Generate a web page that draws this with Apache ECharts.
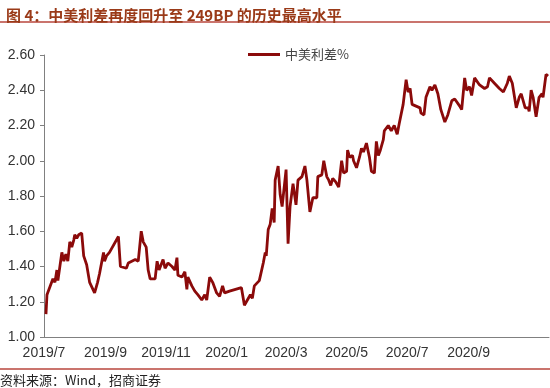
<!DOCTYPE html>
<html>
<head>
<meta charset="utf-8">
<script src="https://cdn.jsdelivr.net/npm/echarts@6/dist/echarts.min.js"></script>
<style>
html,body{margin:0;padding:0;background:#fff;}
#c{width:550px;height:388px;}
</style>
</head>
<body>
<div id="c"></div>
<script>
const dates = [
'2019-07-03','2019-07-04','2019-07-06','2019-07-10','2019-07-12','2019-07-14','2019-07-15','2019-07-19','2019-07-21','2019-07-23',
'2019-07-25','2019-07-27','2019-07-29','2019-07-31','2019-08-01','2019-08-03','2019-08-05','2019-08-08','2019-08-10','2019-08-13',
'2019-08-16','2019-08-21','2019-08-24','2019-08-26','2019-08-30','2019-08-31','2019-09-02','2019-09-05','2019-09-14','2019-09-16',
'2019-09-22','2019-09-24','2019-10-01','2019-10-04','2019-10-07','2019-10-09','2019-10-12','2019-10-14','2019-10-16','2019-10-21',
'2019-10-23','2019-10-25','2019-10-29','2019-10-31','2019-11-03','2019-11-07','2019-11-10','2019-11-12','2019-11-13','2019-11-17',
'2019-11-20','2019-11-22','2019-11-23','2019-11-27','2019-11-30','2019-12-03','2019-12-07','2019-12-10','2019-12-12','2019-12-15',
'2019-12-18','2019-12-22','2019-12-25','2019-12-28','2019-12-30','2020-01-04','2020-01-10','2020-01-16','2020-01-19','2020-01-22',
'2020-01-25','2020-01-27','2020-01-29','2020-02-03','2020-02-07','2020-02-09','2020-02-10','2020-02-12','2020-02-14','2020-02-16',
'2020-02-18','2020-02-19','2020-02-22','2020-02-24','2020-02-26','2020-03-01','2020-03-03','2020-03-05','2020-03-08','2020-03-11',
'2020-03-13','2020-03-17','2020-03-20','2020-03-22','2020-03-25','2020-03-28','2020-04-01','2020-04-02','2020-04-06','2020-04-08',
'2020-04-11','2020-04-13','2020-04-15','2020-04-17','2020-04-20','2020-04-23','2020-04-26','2020-04-28','2020-05-01','2020-05-02',
'2020-05-04','2020-05-07','2020-05-08','2020-05-11','2020-05-14','2020-05-16','2020-05-18','2020-05-21','2020-05-24','2020-05-26',
'2020-05-29','2020-05-31','2020-06-02','2020-06-04','2020-06-07','2020-06-08','2020-06-12','2020-06-15','2020-06-18','2020-06-21',
'2020-06-23','2020-06-27','2020-06-30','2020-07-02','2020-07-04','2020-07-06','2020-07-10','2020-07-14','2020-07-15','2020-07-18',
'2020-07-20','2020-07-24','2020-07-26','2020-07-29','2020-08-01','2020-08-04','2020-08-08','2020-08-11','2020-08-15','2020-08-18',
'2020-08-20','2020-08-23','2020-08-25','2020-08-28','2020-08-30','2020-09-02','2020-09-04','2020-09-07','2020-09-09','2020-09-12',
'2020-09-14','2020-09-17','2020-09-20','2020-09-22','2020-09-24','2020-09-27','2020-10-02','2020-10-06','2020-10-10','2020-10-12',
'2020-10-15','2020-10-19','2020-10-22','2020-10-24','2020-10-26','2020-10-28','2020-10-31','2020-11-01','2020-11-03','2020-11-05',
'2020-11-08','2020-11-11','2020-11-14','2020-11-15','2020-11-18','2020-11-20'
];
const spread = [
1.13,1.24,1.24,1.33,1.31,1.38,1.32,1.48,1.43,1.47,
1.43,1.54,1.51,1.55,1.58,1.56,1.58,1.59,1.46,1.41,
1.31,1.25,1.31,1.36,1.48,1.43,1.46,1.48,1.57,1.40,
1.39,1.42,1.44,1.43,1.60,1.54,1.51,1.38,1.33,1.33,
1.43,1.38,1.44,1.39,1.42,1.40,1.38,1.45,1.35,1.34,
1.37,1.27,1.34,1.29,1.26,1.24,1.21,1.24,1.21,1.34,
1.31,1.25,1.23,1.29,1.25,1.26,1.27,1.28,1.18,1.21,
1.24,1.22,1.29,1.32,1.42,1.48,1.46,1.61,1.64,1.73,
1.65,1.89,1.97,1.81,1.74,1.95,1.53,1.74,1.87,1.75,
1.89,1.91,1.97,1.89,1.71,1.79,1.79,1.91,1.92,2.00,
1.91,1.89,1.86,1.90,1.88,1.85,2.00,1.93,1.94,2.06,
2.02,2.03,2.00,1.96,2.02,2.07,2.05,2.10,2.02,1.94,
1.93,2.11,2.03,2.06,2.12,2.17,2.20,2.17,2.20,2.15,
2.21,2.32,2.46,2.39,2.41,2.32,2.31,2.30,2.27,2.26,
2.36,2.42,2.40,2.43,2.38,2.29,2.22,2.26,2.34,2.35,
2.35,2.31,2.29,2.47,2.40,2.42,2.37,2.47,2.47,2.43,
2.43,2.41,2.42,2.47,2.46,2.44,2.41,2.39,2.44,2.48,
2.44,2.30,2.36,2.38,2.38,2.30,2.30,2.28,2.40,2.36,
2.25,2.36,2.38,2.36,2.49,2.48
];
const xTickLabels = ['2019/7','2019/9','2019/11','2020/1','2020/3','2020/5','2020/7','2020/9'];
const seriesName = '中美利差%';

function toTime(s) {
  const p = s.split(/[-\/]/);
  return new Date(+p[0], +p[1] - 1, p[2] ? +p[2] : 1).getTime();
}
const xTickValues = xTickLabels.map(toTime);
const data = dates.map(function (d, i) { return [toTime(d), spread[i]]; });

const chart = echarts.init(document.getElementById('c'), null, {renderer: 'canvas'});
chart.setOption({
  animation: false,
  backgroundColor: '#fff',
  title: {
    text: '图 4：中美利差再度回升至 249BP 的历史最高水平',
    left: 1, top: 3,
    textStyle: {fontFamily: '"Noto Sans CJK SC", "Liberation Sans", sans-serif', fontSize: 15, fontWeight: 'bold', color: '#9a3a18'}
  },
  legend: {
    left: 243, top: 43,
    itemWidth: 32, itemHeight: 10, itemGap: 10,
    textStyle: {fontFamily: '"Noto Sans CJK SC", sans-serif', fontSize: 13, color: '#444'},
    data: [{name: seriesName, icon: 'path://M0,0 L32,0 L32,3 L0,3 Z'}]
  },
  grid: {left: 44, right: 1, top: 55, bottom: 51, containLabel: false},
  xAxis: {
    type: 'value',
    min: toTime('2019-07-01'),
    max: toTime('2020-11-21'),
    axisLine: {show: true, lineStyle: {color: '#808080', width: 1}},
    axisTick: {show: false},
    splitLine: {show: false},
    axisLabel: {
      customValues: xTickValues,
      margin: 9,
      fontFamily: '"Liberation Sans", Arial, sans-serif',
      fontSize: 14,
      color: '#333',
      formatter: function (v) {
        const d = new Date(v);
        return d.getFullYear() + '/' + (d.getMonth() + 1);
      }
    }
  },
  yAxis: {
    type: 'value',
    min: 1.0, max: 2.6, interval: 0.2,
    axisLine: {show: true, lineStyle: {color: '#808080', width: 1}},
    axisTick: {show: true, length: 4, lineStyle: {color: '#808080'}},
    splitLine: {show: false},
    axisLabel: {
      margin: 9,
      fontFamily: '"Liberation Sans", Arial, sans-serif',
      fontSize: 14,
      color: '#333',
      formatter: function (v) { return v.toFixed(2); }
    }
  },
  series: [{
    name: seriesName,
    type: 'line',
    data: data,
    symbol: 'none',
    lineStyle: {color: '#8b0a0a', width: 2.8},
    itemStyle: {color: '#8b0a0a'}
  }],
  graphic: [
    {type: 'line', shape: {x1: 0, y1: 22, x2: 550, y2: 22}, style: {stroke: '#b8463c', lineWidth: 1.5}},
    {type: 'line', shape: {x1: 0, y1: 369, x2: 550, y2: 369}, style: {stroke: '#b8463c', lineWidth: 1.5}},
    {type: 'text', left: 0, top: 374, style: {text: '资料来源：Wind，招商证券', font: '13px "Noto Sans CJK SC", sans-serif', fill: '#222'}}
  ]
});
</script>
</body>
</html>
